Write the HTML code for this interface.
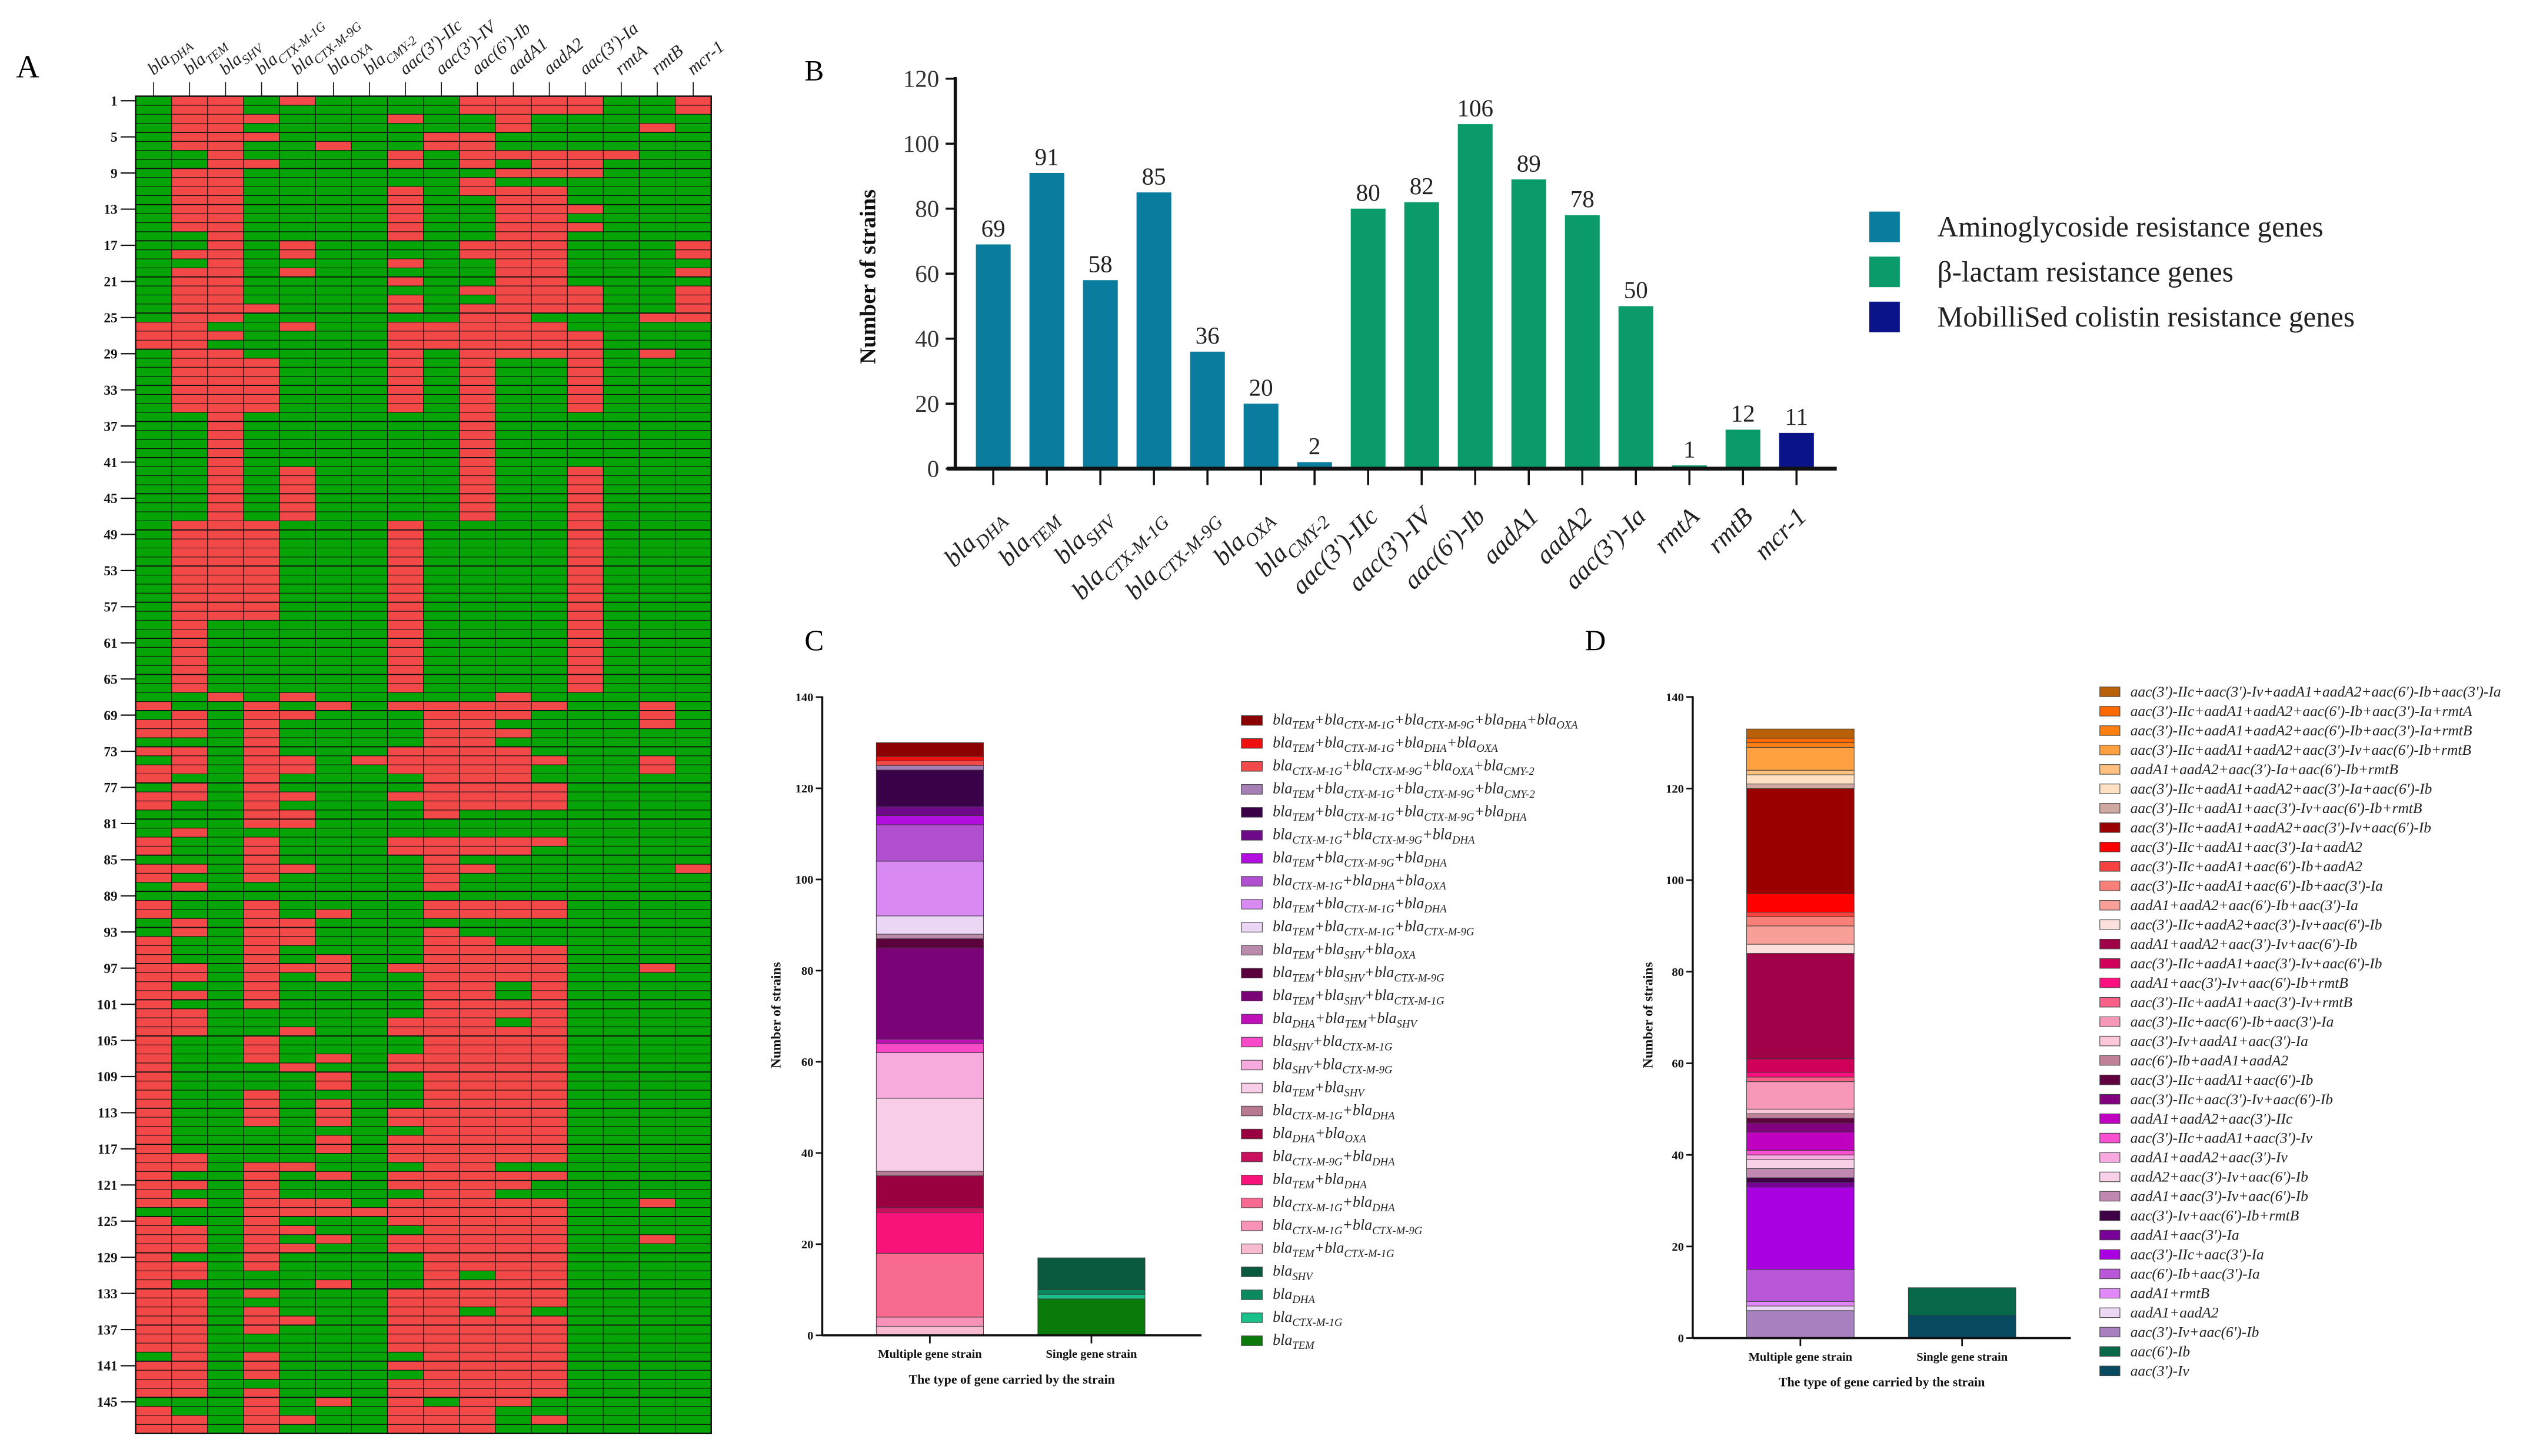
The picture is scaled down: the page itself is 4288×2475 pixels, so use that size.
<!DOCTYPE html>
<html>
<head>
<meta charset="utf-8">
<style>
html,body{margin:0;padding:0;background:#fff;overflow:hidden;}
svg{display:block;}
text{font-family:"Liberation Serif","DejaVu Serif",serif;}
</style>
</head>
<body>
<svg id="fig" xmlns="http://www.w3.org/2000/svg" width="4288" height="2475" viewBox="0 0 1568 905" preserveAspectRatio="none">
<rect x="0" y="0" width="1568" height="905" fill="#fff"/>
<text x="10" y="48" font-size="20">A</text>
<text x="500" y="50" font-size="18">B</text>
<text x="500" y="404" font-size="18">C</text>
<text x="985" y="404" font-size="18">D</text>
<g id="gA"></g>
<g id="gB"></g>
<g id="gC"></g>
<g id="gD"></g>
</svg>
<script>
const NS="http://www.w3.org/2000/svg";
// ---------- DATA ----------
const geneBase=["bla","bla","bla","bla","bla","bla","bla","aac(3')-IIc","aac(3')-IV","aac(6')-Ib","aadA1","aadA2","aac(3')-Ia","rmtA","rmtB","mcr-1"];
const geneSub=["DHA","TEM","SHV","CTX-M-1G","CTX-M-9G","OXA","CMY-2","","","","","","","","",""];
const strainCount=148;
// rows 1-67: red row ranges per gene column
const heatTopRanges=[
"26-28","1-6,9-15,18,20-35,48-66","1-25,27,29-58,67","3,5,8,24,30-35,48-58","1,17,18,20,26,42-47,67","6","",
"3,7,8,11-16,19,21,23,24,26-35,48-66","5,6,26-28","1,2,5-8,10,11,17,18,22,24-47","1-4,7,9,11-29,67","1,2,7-9,11-24,26-29",
"1,2,7-9,13,15,22-24,27-35,42-66","7","4,25,29","1,2,17,18,20,22-25"];
// rows 68-148: red gene columns per row
const heatBottomRows=[
[0,3,5,7,8,9,10,11,14],[1,3,4,8,9,10,14],[0,1,3,8,9,14],[0,1,3,8,9,10],[3,8,9],[0,1,3,7,8,9,10],
[1,3,4,6,7,8,9,10,11,14],[0,1,3,4,7,8,9,10,14],[0,3,8,9,10],[1,3,8,9,10,11],[0,1,3,4,7,8,9,10,11],[0,3,8,9,10,11],
[3,4,8],[3,4],[1],[0,3,7,8,9,10,11],[0,3,7,8,9,10],[3,8],[0,1,3,4,8,9,15],[0,3,8],[1,8],[],
[0,3,8,9,10,11],[0,3,5,8,9,10,11],[1,3,4],[1,3,4,8],[0,3,4,8,9],[0,3,8,9,10,11],[0,3,5,8,9,10,11],
[0,1,3,4,5,7,8,9,10,11,14],[0,1,3,5,8,9,10,11],[0,3,8,9,11],[0,1,3,8,9,11],[0,3,8,9,10,11],[0,1,8,9,10,11],
[0,1,7,8,9,11],[0,1,4,7,8,9,10,11],[0,3,8,9,10,11],[0,3,8,9,10,11],[0,3,5,7,8,9,10,11],[0,4,7,8,9,10,11],
[0,5,8,9,10,11],[0,5,8,9,10,11],[0,3,8,9,10,11],[0,3,5,8,9,10,11],[0,3,5,7,8,9,10,11],[0,3,5,7,8,9,10,11],
[0,8,9,10,11],[0,5,7,8,9,10,11],[0,5,7,8,9,10,11],[0,1,7,8,9,10,11],[0,1,3,4,8,9],[0,3,5,7,8,9,10,11],
[0,1,3,7,8,9,10],[0,3,8,9],[0,1,3,4,5,7,8,9,10,11,14],[3,4,5,6,7,8,9,10,11],[0,3,7,8,9,10,11],[0,1,3,4,8,9,10,11],
[0,1,3,5,7,8,9,10,11,14],[0,1,3,4,7,8,9,10,11],[0,3,8,9,10,11],[0,1,3,8,9,10,11],[0,1,8,10,11],[0,5,8,9,10,11],
[0,1,3,7,8,9,10,11],[0,1,7,8,9,10,11],[0,1,3,7,8,10],[0,1,3,4,7,8,9,10,11],[0,1,3,7,8,9,10,11],[0,1,7,8,9,10,11],
[0,1,7,8,9,10,11],[1,3,8,9,10,11],[0,1,3,7,8,9,10,11],[0,1,3,8,9,10,11],[0,1,7,8,9,10,11],[0,1,3,7,8,9,10,11],
[3,5,7,9,10],[0,3,7,8,9],[0,1,3,4,7,8,9,11],[0,1,3,7,8,9]];
const rowTickLabels=[1,5,9,13,17,21,25,29,33,37,41,45,49,53,57,61,65,69,73,77,81,85,89,93,97,101,105,109,113,117,121,125,129,133,137,141,145];

// Panel B
const bValues=[69,91,58,85,36,20,2,80,82,106,89,78,50,1,12,11];
const bGroup=[0,0,0,0,0,0,0,1,1,1,1,1,1,1,1,2];
const bTicks=[0,20,40,60,80,100,120];
const bLegendLabels=["Aminoglycoside resistance genes","β-lactam resistance genes","MobilliSed colistin resistance genes"];

// Panel C
const cLegendCodes=[
["TEM","CTX-M-1G","CTX-M-9G","DHA","OXA"],["TEM","CTX-M-1G","DHA","OXA"],["CTX-M-1G","CTX-M-9G","OXA","CMY-2"],
["TEM","CTX-M-1G","CTX-M-9G","CMY-2"],["TEM","CTX-M-1G","CTX-M-9G","DHA"],["CTX-M-1G","CTX-M-9G","DHA"],
["TEM","CTX-M-9G","DHA"],["CTX-M-1G","DHA","OXA"],["TEM","CTX-M-1G","DHA"],["TEM","CTX-M-1G","CTX-M-9G"],
["TEM","SHV","OXA"],["TEM","SHV","CTX-M-9G"],["TEM","SHV","CTX-M-1G"],["DHA","TEM","SHV"],["SHV","CTX-M-1G"],
["SHV","CTX-M-9G"],["TEM","SHV"],["CTX-M-1G","DHA"],["DHA","OXA"],["CTX-M-9G","DHA"],["TEM","DHA"],
["CTX-M-1G","DHA"],["CTX-M-1G","CTX-M-9G"],["TEM","CTX-M-1G"],["SHV"],["DHA"],["CTX-M-1G"],["TEM"]];
const cColors=["#8b0000","#ee1111","#f24a4a","#a57fb5","#3a0048","#6e0a8a","#b30ee0","#b050d0","#d98af2","#ecd6f5",
"#b98aaa","#5a003c","#7a0378","#c010b8","#f84ac8","#f6aadd","#f8cde8","#b97891","#9a0040","#c8105e","#f8137a",
"#f86a90","#f892b9","#f8bad0","#0a5a40","#0b8a60","#19c08b","#0a7a0a"];
const cMultiValues=[3,1,1,1,8,2,2,8,12,4,1,2,20,1,2,10,16,1,7,1,9,14,2,2];
const cSingleValues=[7,1,1,8];
const stackTicks=[0,20,40,60,80,100,120,140];
const stackCats=["Multiple gene strain","Single gene strain"];

// Panel D
const dLegendLabels=[
"aac(3')-IIc+aac(3')-Iv+aadA1+aadA2+aac(6')-Ib+aac(3')-Ia","aac(3')-IIc+aadA1+aadA2+aac(6')-Ib+aac(3')-Ia+rmtA",
"aac(3')-IIc+aadA1+aadA2+aac(6')-Ib+aac(3')-Ia+rmtB","aac(3')-IIc+aadA1+aadA2+aac(3')-Iv+aac(6')-Ib+rmtB",
"aadA1+aadA2+aac(3')-Ia+aac(6')-Ib+rmtB","aac(3')-IIc+aadA1+aadA2+aac(3')-Ia+aac(6')-Ib",
"aac(3')-IIc+aadA1+aac(3')-Iv+aac(6')-Ib+rmtB","aac(3')-IIc+aadA1+aadA2+aac(3')-Iv+aac(6')-Ib",
"aac(3')-IIc+aadA1+aac(3')-Ia+aadA2","aac(3')-IIc+aadA1+aac(6')-Ib+aadA2","aac(3')-IIc+aadA1+aac(6')-Ib+aac(3')-Ia",
"aadA1+aadA2+aac(6')-Ib+aac(3')-Ia","aac(3')-IIc+aadA2+aac(3')-Iv+aac(6')-Ib","aadA1+aadA2+aac(3')-Iv+aac(6')-Ib",
"aac(3')-IIc+aadA1+aac(3')-Iv+aac(6')-Ib","aadA1+aac(3')-Iv+aac(6')-Ib+rmtB","aac(3')-IIc+aadA1+aac(3')-Iv+rmtB",
"aac(3')-IIc+aac(6')-Ib+aac(3')-Ia","aac(3')-Iv+aadA1+aac(3')-Ia","aac(6')-Ib+aadA1+aadA2","aac(3')-IIc+aadA1+aac(6')-Ib",
"aac(3')-IIc+aac(3')-Iv+aac(6')-Ib","aadA1+aadA2+aac(3')-IIc","aac(3')-IIc+aadA1+aac(3')-Iv","aadA1+aadA2+aac(3')-Iv",
"aadA2+aac(3')-Iv+aac(6')-Ib","aadA1+aac(3')-Iv+aac(6')-Ib","aac(3')-Iv+aac(6')-Ib+rmtB","aadA1+aac(3')-Ia",
"aac(3')-IIc+aac(3')-Ia","aac(6')-Ib+aac(3')-Ia","aadA1+rmtB","aadA1+aadA2","aac(3')-Iv+aac(6')-Ib","aac(6')-Ib","aac(3')-Iv"];
const dColors=["#b8600a","#ff6a00","#ff8010","#ffa040","#ffc080","#ffe0c2","#d0a8a2","#9a0000","#ff0000","#f84242",
"#f88078","#f8a098","#fce0dc","#a00048","#d0005a","#ff1080","#f86088","#f898b8","#fcc8d8","#c08098","#600040",
"#800080","#c000c0","#f850d0","#f8a8e0","#f8d0e8","#c088b0","#400048","#780098","#a800e0","#b858d8","#e088f8",
"#ecd8f4","#a880c0","#08684a","#084a60"];
const dMultiValues=[2,1,1,5,1,2,1,23,4,1,2,4,2,23,3,1,1,6,1,1,1,2,4,1,1,2,2,1,1,18,7,1,1,6];
const dSingleValues=[6,5];

// ---------- HELPERS ----------
function mk(tag,attrs,parent){const e=document.createElementNS(NS,tag);for(const k in attrs)e.setAttribute(k,attrs[k]);parent.appendChild(e);return e;}
function rich(parent,x,y,segs,fs,attrs){
  const t=mk("text",Object.assign({x:x,y:y,"font-size":fs},attrs||{}),parent);
  let down=false;
  segs.forEach(s=>{
    if(!s[0])return;
    const sp=mk("tspan",{},t);
    if(s[1]){sp.setAttribute("font-size",fs*0.72);if(!down){sp.setAttribute("dy",fs*0.28);down=true;}}
    else if(down){sp.setAttribute("dy",-fs*0.28);down=false;}
    sp.textContent=s[0];
  });
  return t;
}
function parseRanges(str){const out=[];if(!str)return out;str.split(",").forEach(p=>{const a=p.split("-").map(Number);if(a.length===1)out.push(a[0]);else for(let i=a[0];i<=a[1];i++)out.push(i);});return out;}

// ---------- PANEL A: HEATMAP ----------
(function(){
  const g=document.getElementById("gA");
  const HL=84.3,HR=442,HT=59.8,HB=891;
  const CW=(HR-HL)/16,RH=(HB-HT)/strainCount;
  const hx=c=>HL+c*CW, hy=r=>HT+r*RH;
  const grid=[];for(let r=0;r<strainCount;r++)grid.push(new Array(16).fill(0));
  heatTopRanges.forEach((s,c)=>parseRanges(s).forEach(r=>{grid[r-1][c]=1;}));
  heatBottomRows.forEach((list,i)=>list.forEach(c=>{grid[67+i][c]=1;}));
  for(let r=0;r<strainCount;r++){for(let c=0;c<16;c++){
    const cell=mk("rect",{x:hx(c),y:hy(r),width:CW+0.05,height:RH+0.05,fill:grid[r][c]?"#f24848":"#06a406"},g);
    
    
  }}
  for(let r=0;r<=strainCount;r++){
    const ln=mk("line",{x1:HL,x2:HR,y1:hy(r),y2:hy(r),stroke:"#111","stroke-width":(r%4===0)?0.7:0.4},g);
    
    
  }
  for(let c=0;c<=16;c++){
    const ln=mk("line",{x1:hx(c),x2:hx(c),y1:HT,y2:HB,stroke:"#111","stroke-width":0.45},g);
    
    
  }
  const fr=mk("rect",{x:HL,y:HT,width:HR-HL,height:HB-HT,fill:"none",stroke:"#111","stroke-width":0.9},g);
  
  
  geneBase.forEach((b,c)=>{
    const cx=hx(c)+CW/2;
    const tk=mk("line",{x1:cx,x2:cx,y1:51,y2:HT,stroke:"#111","stroke-width":0.6},g);
    
    
    const t=rich(g,cx,47,[[b,0],[geneSub[c],1]],11,{"font-style":"italic",transform:"rotate(-40 "+cx+" 47)",fill:"#222"});
    
    
  });
  rowTickLabels.forEach(n=>{
    const cy=hy(n-1)+RH/2;
    const tk=mk("line",{x1:75,x2:HL,y1:cy,y2:cy,stroke:"#111","stroke-width":0.8},g);
    
    
    const t=mk("text",{x:73,y:cy+3,"font-size":8.5,"font-weight":"bold","text-anchor":"end",fill:"#111"},g);
    t.textContent=n;
    
    
  });
})();

// ---------- PANEL B: BAR CHART ----------
(function(){
  const g=document.getElementById("gB");
  const AX=593.7,Y0=291.3,Y120=48.9,X0=617.3,STEP=33.28,BW=21.6;
  const by=v=>Y0-(v/120)*(Y0-Y120);
  const bx=i=>X0+i*STEP;
  const colors=["#0a7d9e","#0b9a6a","#0a1488"];
  bValues.forEach((v,i)=>{
    const r=mk("rect",{x:bx(i)-BW/2,y:by(v),width:BW,height:Y0-by(v),fill:colors[bGroup[i]]},g);
    
    
    const t=mk("text",{x:bx(i),y:by(v)-5,"font-size":15,"text-anchor":"middle",fill:"#222"},g);
    t.textContent=v;
    
    
    const tk=mk("line",{x1:bx(i),x2:bx(i),y1:Y0,y2:301.5,stroke:"#111","stroke-width":1.3},g);
    
    
    const lx=bx(i)+7,ly=322;
    const lb=rich(g,lx,ly,[[geneBase[i],0],[geneSub[i],1]],16,{"font-style":"italic","text-anchor":"end",transform:"rotate(-45 "+lx+" "+ly+")",fill:"#222"});
    
    
  });
  bTicks.forEach(v=>{
    const tk=mk("line",{x1:AX-6,x2:AX,y1:by(v),y2:by(v),stroke:"#111","stroke-width":1.3},g);
    
    
    const t=mk("text",{x:AX-10,y:by(v)+5,"font-size":15,"text-anchor":"end",fill:"#333"},g);
    t.textContent=v;
    
    
  });
  const ya=mk("line",{x1:AX,x2:AX,y1:Y120-1,y2:Y0+1,stroke:"#111","stroke-width":2},g);
  
  
  const xa=mk("line",{x1:588.6,x2:1141.5,y1:Y0,y2:Y0,stroke:"#111","stroke-width":2.4},g);
  
  
  const yt=mk("text",{x:0,y:0,"font-size":14,"font-weight":"bold","text-anchor":"middle",transform:"translate(544 172) rotate(-90)",fill:"#111"},g);
  yt.textContent="Number of strains";
  
  
  const lys=[141,169,197];
  bLegendLabels.forEach((l,i)=>{
    const sq=mk("rect",{x:1161.7,y:lys[i]-9.5,width:19,height:19,fill:colors[i]},g);
    
    
    const t=mk("text",{x:1204,y:lys[i]+6,"font-size":18,fill:"#222"},g);
    t.textContent=l;
    
    
  });
})();

// ---------- STACKED CHART BUILDER ----------
function stacked(g,cfg){
  const sy=v=>cfg.y0-(v/140)*(cfg.y0-cfg.y140);
  const sx=i=>cfg.barX[i];
  const series=[cfg.multi,cfg.single];
  series.forEach((vals,bi)=>{
    let acc=0;
    for(let k=vals.length-1;k>=0;k--){
      const v=vals[k];
      const colorIdx=bi===0?k:cfg.multi.length+k;
      const r=mk("rect",{x:sx(bi),y:sy(acc+v),width:cfg.bw,height:sy(acc)-sy(acc+v),fill:cfg.colors[colorIdx],stroke:"#3a3a3a","stroke-width":0.35},g);
      
      
      acc+=v;
    }
    const cx=sx(bi)+cfg.bw/2;
    const tk=mk("line",{x1:cx,x2:cx,y1:cfg.y0,y2:cfg.y0+5,stroke:"#111","stroke-width":1},g);
    
    
    const t=mk("text",{x:cx,y:cfg.y0+14,"font-size":7.5,"font-weight":"bold","text-anchor":"middle",fill:"#111"},g);
    t.textContent=stackCats[bi];
    
    
  });
  stackTicks.forEach(v=>{
    const tk=mk("line",{x1:cfg.ax-4,x2:cfg.ax,y1:sy(v),y2:sy(v),stroke:"#111","stroke-width":1},g);
    
    
    const t=mk("text",{x:cfg.ax-5.5,y:sy(v)+2.6,"font-size":7.5,"font-weight":"bold","text-anchor":"end",fill:"#111"},g);
    t.textContent=v;
    
    
  });
  const ya=mk("line",{x1:cfg.ax,x2:cfg.ax,y1:cfg.y140-0.5,y2:cfg.y0,stroke:"#111","stroke-width":1.3},g);
  
  
  const xa=mk("line",{x1:cfg.ax,x2:cfg.xend,y1:cfg.y0,y2:cfg.y0,stroke:"#111","stroke-width":1.3},g);
  
  
  const xt=mk("text",{x:(cfg.ax+cfg.xend)/2,y:cfg.y0+30,"font-size":8,"font-weight":"bold","text-anchor":"middle",fill:"#111"},g);
  xt.textContent="The type of gene carried by the strain";
  
  
  const yt=mk("text",{x:0,y:0,"font-size":8.5,"font-weight":"bold","text-anchor":"middle",transform:"translate("+cfg.ytx+" 631) rotate(-90)",fill:"#111"},g);
  yt.textContent="Number of strains";
  
  
}

// ---------- PANEL C ----------
(function(){
  const g=document.getElementById("gC");
  stacked(g,{y0:830,y140:433.3,ax:511,xend:746.7,barX:[544.6,645],bw:66.6,multi:cMultiValues,single:cSingleValues,colors:cColors,ytx:485});
  cLegendCodes.forEach((codes,i)=>{
    const cy=447.8+i*14.28;
    const sq=mk("rect",{x:771.5,y:cy-3,width:13,height:6,fill:cColors[i],stroke:"#444","stroke-width":0.4},g);
    
    
    const segs=[];codes.forEach((c,j)=>{if(j>0)segs.push(["+",0]);segs.push(["bla",0]);segs.push([c,1]);});
    const t=rich(g,791,cy+2.5,segs,9.5,{"font-style":"italic",fill:"#222"});
    
    
  });
})();

// ---------- PANEL D ----------
(function(){
  const g=document.getElementById("gD");
  stacked(g,{y0:831.7,y140:433.2,ax:1052,xend:1287,barX:[1085.5,1186],bw:66.8,multi:dMultiValues,single:dSingleValues,colors:dColors,ytx:1027});
  dLegendLabels.forEach((l,i)=>{
    const cy=430+i*12.06;
    const sq=mk("rect",{x:1305,y:cy-3,width:12.5,height:6,fill:dColors[i],stroke:"#444","stroke-width":0.4},g);
    
    
    const t=mk("text",{x:1324,y:cy+3,"font-size":9.3,"font-style":"italic",fill:"#222"},g);
    t.textContent=l;
    
    
  });
})();
</script>
</body>
</html>
